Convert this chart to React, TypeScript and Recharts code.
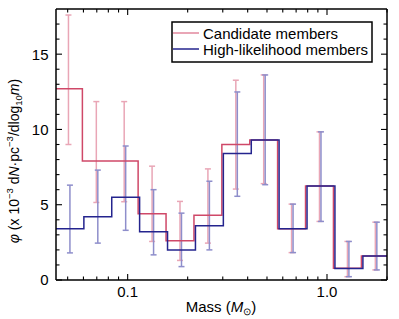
import React from 'react';
import { ComposedChart, Line, Scatter, ErrorBar, XAxis, YAxis } from 'recharts';

// Bin edges (solar masses), 0.14 dex wide
const binEdges = [0.0437, 0.0603, 0.0832, 0.1148, 0.1585, 0.2188, 0.302, 0.417, 0.575, 0.794, 1.096, 1.514, 2.089];

// Candidate members
const candidateValues = [12.7, 7.9, 7.9, 4.4, 2.6, 4.3, 9.0, 9.3, 3.4, 6.25, 0.78, 1.6];
const candidateLow = [9.0, 5.15, 5.2, 2.56, 1.3, 2.45, 6.04, 6.4, 1.82, 3.89, 0.22, 0.67];
const candidateHigh = [17.6, 11.85, 11.85, 7.56, 5.22, 7.38, 13.27, 13.62, 5.04, 9.84, 2.56, 3.84];

// High-likelihood members
const highValues = [3.4, 4.2, 5.5, 3.2, 2.0, 3.6, 8.4, 9.3, 3.4, 6.25, 0.76, 1.6];
const highLow = [1.8, 2.45, 3.3, 1.67, 0.89, 2.0, 5.56, 6.33, 1.82, 3.89, 0.22, 0.67];
const highHigh = [6.3, 7.3, 8.9, 6.0, 4.44, 6.56, 12.49, 13.62, 5.04, 9.84, 2.56, 3.84];

const xMajorTicks = [0.1, 1];
const xMajorLabels = ['0.1', '1.0'];
const xMinorTicks = [0.05, 0.06, 0.07, 0.08, 0.09, 0.2, 0.3, 0.4, 0.5, 0.6, 0.7, 0.8, 0.9, 2];
const yMajorTicks = [0, 5, 10, 15];
const yMinorTicks = [1, 2, 3, 4, 6, 7, 8, 9, 11, 12, 13, 14, 16, 17];

const X_DOMAIN: [number, number] = [0.0437, 2.0];
const Y_DOMAIN: [number, number] = [0, 18];
const CANDIDATE_SHIFT = 0.983; // slight horizontal offset of candidate series for visibility

const FONT = '"Liberation Sans", Arial, Helvetica, sans-serif';
const RED_LINE = '#cf4868';
const RED_ERR = '#e9a6b6';
const BLUE_LINE = '#24248e';
const BLUE_ERR = '#8e8ecb';

const stepData = (vals: number[], shift: number) =>
  binEdges.map((e, i) => ({ m: e * shift, v: vals[Math.min(i, vals.length - 1)] }));

const errData = (vals: number[], lo: number[], hi: number[], shift: number) =>
  vals.map((v, i) => ({
    m: Math.sqrt(binEdges[i] * binEdges[i + 1]) * shift,
    v,
    err: [v - lo[i], hi[i] - v],
  }));

const candStep = stepData(candidateValues, CANDIDATE_SHIFT);
const highStep = stepData(highValues, 1);
const candErr = errData(candidateValues, candidateLow, candidateHigh, CANDIDATE_SHIFT);
const highErr = errData(highValues, highLow, highHigh, 1);

const allXTicks = [...xMinorTicks, ...xMajorTicks].sort((a, b) => a - b);
const allYTicks = [...yMinorTicks, ...yMajorTicks].sort((a, b) => a - b);

const BottomTick = (p: any) => {
  const v = p.payload.value;
  const idx = xMajorTicks.indexOf(v);
  const major = idx >= 0;
  return (
    <g>
      <line x1={p.x} x2={p.x} y1={p.y} y2={p.y - (major ? 6 : 3.5)} stroke="#000" strokeWidth={1.1} />
      {major && (
        <text x={p.x} y={p.y + 17} textAnchor="middle" fontSize={15} fontFamily={FONT} fill="#000">
          {xMajorLabels[idx]}
        </text>
      )}
    </g>
  );
};

const TopTick = (p: any) => {
  const major = xMajorTicks.indexOf(p.payload.value) >= 0;
  return <line x1={p.x} x2={p.x} y1={p.y} y2={p.y + (major ? 6 : 3.5)} stroke="#000" strokeWidth={1.1} />;
};

const LeftTick = (p: any) => {
  const v = p.payload.value;
  const major = yMajorTicks.indexOf(v) >= 0;
  return (
    <g>
      <line x1={p.x} x2={p.x + (major ? 6 : 3.5)} y1={p.y} y2={p.y} stroke="#000" strokeWidth={1.1} />
      {major && (
        <text x={p.x - 7.5} y={p.y + 5.4} textAnchor="end" fontSize={15} fontFamily={FONT} fill="#000">
          {String(v)}
        </text>
      )}
    </g>
  );
};

const RightTick = (p: any) => {
  const major = yMajorTicks.indexOf(p.payload.value) >= 0;
  return <line x1={p.x} x2={p.x - (major ? 6 : 3.5)} y1={p.y} y2={p.y} stroke="#000" strokeWidth={1.1} />;
};

const HiddenDot = () => <g />;

export default function App() {
  const axisLine = { stroke: '#000', strokeWidth: 1.5 };
  return (
    <div style={{ position: 'absolute', left: 0, top: 0, width: 399, height: 319, background: '#fff' }}>
      <ComposedChart width={399} height={319} margin={{ top: 8, right: 11, bottom: 38, left: 55 }}>
        <XAxis
          xAxisId="x"
          dataKey="m"
          type="number"
          scale="log"
          domain={X_DOMAIN}
          allowDataOverflow
          ticks={allXTicks}
          interval={0}
          height={1}
          tickSize={0}
          tickMargin={0}
          tickLine={false}
          axisLine={axisLine}
          tick={(p: any) => <BottomTick {...p} />}
        />
        <XAxis
          xAxisId="top"
          orientation="top"
          dataKey="m"
          type="number"
          scale="log"
          domain={X_DOMAIN}
          allowDataOverflow
          ticks={allXTicks}
          interval={0}
          height={1}
          tickSize={0}
          tickMargin={0}
          tickLine={false}
          axisLine={axisLine}
          tick={(p: any) => <TopTick {...p} />}
        />
        <YAxis
          yAxisId="y"
          dataKey="v"
          type="number"
          domain={Y_DOMAIN}
          allowDataOverflow
          ticks={allYTicks}
          interval={0}
          width={1}
          tickSize={0}
          tickMargin={0}
          tickLine={false}
          axisLine={axisLine}
          tick={(p: any) => <LeftTick {...p} />}
        />
        <YAxis
          yAxisId="r"
          orientation="right"
          dataKey="v"
          type="number"
          domain={Y_DOMAIN}
          allowDataOverflow
          ticks={allYTicks}
          interval={0}
          width={1}
          tickSize={0}
          tickMargin={0}
          tickLine={false}
          axisLine={axisLine}
          tick={(p: any) => <RightTick {...p} />}
        />
        <Scatter xAxisId="x" yAxisId="y" data={candErr} dataKey="v" shape={HiddenDot} isAnimationActive={false}>
          <ErrorBar dataKey="err" direction="y" width={3} stroke={RED_ERR} strokeWidth={1.5} isAnimationActive={false} />
        </Scatter>
        <Scatter xAxisId="x" yAxisId="y" data={highErr} dataKey="v" shape={HiddenDot} isAnimationActive={false}>
          <ErrorBar dataKey="err" direction="y" width={3} stroke={BLUE_ERR} strokeWidth={1.5} isAnimationActive={false} />
        </Scatter>
        <Line
          xAxisId="x"
          yAxisId="y"
          data={candStep}
          dataKey="v"
          type="stepAfter"
          stroke={RED_LINE}
          strokeWidth={1.5}
          dot={false}
          activeDot={false}
          isAnimationActive={false}
        />
        <Line
          xAxisId="x"
          yAxisId="y"
          data={highStep}
          dataKey="v"
          type="stepAfter"
          stroke={BLUE_LINE}
          strokeWidth={1.5}
          dot={false}
          activeDot={false}
          isAnimationActive={false}
        />
      </ComposedChart>
      <svg
        width={399}
        height={319}
        style={{ position: 'absolute', left: 0, top: 0, pointerEvents: 'none' }}
        fontFamily={FONT}
      >
        <g>
          <rect x={172} y={22} width={200} height={40} fill="#fff" stroke="#000" strokeWidth={1.5} />
          <line x1={173} x2={199} y1={33} y2={33} stroke={RED_ERR} strokeWidth={2} />
          <line x1={173} x2={199} y1={49} y2={49} stroke={BLUE_LINE} strokeWidth={1.5} />
          <text x={203} y={38.5} fontSize={15} fill="#000">Candidate members</text>
          <text x={203} y={54.5} fontSize={15} fill="#000">High-likelihood members</text>
        </g>
        <text x={221} y={312} fontSize={15} textAnchor="middle" fill="#000">
          Mass (<tspan fontStyle="italic">M</tspan>
          <tspan fontSize={10} dy={3}>⊙</tspan>
          <tspan dy={-3}>)</tspan>
        </text>
        <text transform="translate(19,161) rotate(-90)" fontSize={14} textAnchor="middle" fill="#000">
          <tspan fontStyle="italic">φ</tspan> (x 10
          <tspan fontSize={9.5} dy={-6}>−3</tspan>
          <tspan dy={6}> d</tspan>
          <tspan fontStyle="italic">N</tspan>·pc
          <tspan fontSize={9.5} dy={-6}>−3</tspan>
          <tspan dy={6}>/dlog</tspan>
          <tspan fontSize={9.5} dy={3}>10</tspan>
          <tspan dy={-3} fontStyle="italic">m</tspan>)
        </text>
      </svg>
    </div>
  );
}
